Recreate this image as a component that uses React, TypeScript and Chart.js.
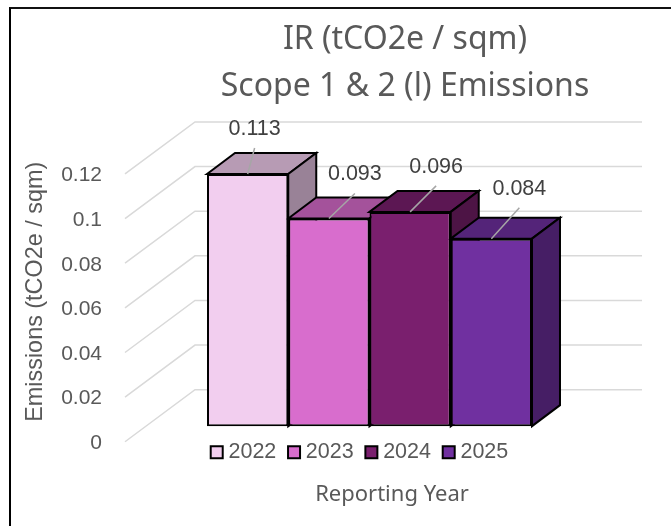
import React, { useEffect, useRef } from "react";
import { Chart, registerables } from "chart.js";

Chart.register(...registerables);

const titleLines = ["IR (tCO2e / sqm)", "Scope 1 & 2 (l) Emissions"];
const categories = [""];
const years = ["2022", "2023", "2024", "2025"];
const intensity = [0.113, 0.093, 0.096, 0.084];
const frontColors = ["#F2CEEF", "#D86DCD", "#7A1F6E", "#7030A0"];
const topColors = ["#B79BB4", "#A4529B", "#5C1753", "#542479"];
const sideColors = ["#998297", "#884581", "#4D1445", "#461E65"];
const labelOffsets = [[7, -45], [26, -44], [26, -45], [28, -50]];

const SANS = "'Liberation Sans', sans-serif";
const UI = "'Noto Sans', sans-serif";
const TEXT = "#595959";

const recentre = (box: any, cx: number, dy = 0) => {
  const shift = cx - (box.left + box.right) / 2;
  box.left += shift;
  box.right += shift;
  box.top += dy;
  box.bottom += dy;
};

const threeD = {
  id: "threeD",
  afterLayout(chart: any) {
    recentre(chart.titleBlock, 405);
    recentre(chart.legend, 362, -17);
    recentre(chart.scales.x, 392, -6);
  },
  beforeDatasetsDraw(chart: any) {
    const { ctx, chartArea, scales } = chart;
    const left = chartArea.left;
    ctx.save();
    ctx.strokeStyle = "#D9D9D9";
    ctx.lineWidth = 1.5;
    scales.y.ticks.forEach((t: any) => {
      const py = scales.y.getPixelForValue(t.value);
      ctx.beginPath();
      ctx.moveTo(left, py);
      ctx.lineTo(left + 70, py - 52);
      ctx.lineTo(642, py - 52);
      ctx.stroke();
    });
    ctx.strokeStyle = "#000";
    ctx.lineWidth = 2;
    ctx.lineJoin = "miter";
    const dx = 28;
    const dy = 21;
    years.forEach((_, i) => {
      const el = chart.getDatasetMeta(i).data[0];
      const l = el.x - el.width / 2;
      const r = el.x + el.width / 2;
      const face = (pts: number[][], fill: string) => {
        ctx.beginPath();
        pts.forEach(([a, b], k) => (k ? ctx.lineTo(a, b) : ctx.moveTo(a, b)));
        ctx.closePath();
        ctx.fillStyle = fill;
        ctx.fill();
        ctx.stroke();
      };
      face([[l, el.y], [l + dx, el.y - dy], [r + dx, el.y - dy], [r, el.y]], topColors[i]);
      face([[r, el.y], [r + dx, el.y - dy], [r + dx, el.base - dy], [r, el.base]], sideColors[i]);
    });
    ctx.restore();
  },
  afterDatasetsDraw(chart: any) {
    const { ctx } = chart;
    ctx.save();
    years.forEach((_, i) => {
      const el = chart.getDatasetMeta(i).data[0];
      const [ox, oy] = labelOffsets[i];
      const tx = el.x + ox;
      const ty = el.y + oy;
      ctx.strokeStyle = "#A6A6A6";
      ctx.lineWidth = 1.5;
      ctx.beginPath();
      ctx.moveTo(el.x, el.y);
      ctx.lineTo(tx, ty + 19);
      ctx.stroke();
      ctx.fillStyle = "#404040";
      ctx.font = `21.5px ${SANS}`;
      ctx.textAlign = "center";
      ctx.textBaseline = "middle";
      ctx.fillText(String(intensity[i]), tx, ty);
    });
    ctx.restore();
  },
};

export default function App() {
  const ref = useRef<HTMLCanvasElement | null>(null);
  useEffect(() => {
    const chart = new Chart(ref.current as HTMLCanvasElement, {
      type: "bar",
      plugins: [threeD],
      data: {
        labels: categories,
        datasets: years.map((y, i) => ({
          label: y,
          data: [intensity[i]],
          yAxisID: "yBars",
          backgroundColor: frontColors[i],
          borderColor: "#000",
          borderWidth: 2,
          borderSkipped: false,
          barPercentage: 1,
          categoryPercentage: 0.6646,
        })),
      },
      options: {
        responsive: false,
        animation: false,
        events: [],
        layout: { padding: { left: 22, right: 57, top: 0, bottom: 12 } },
        plugins: {
          tooltip: { enabled: false },
          title: {
            display: true,
            text: titleLines,
            color: TEXT,
            font: { family: UI, size: 32, weight: "normal", lineHeight: 1.45 },
            padding: { top: 17, bottom: 32 },
          },
          legend: {
            position: "bottom",
            weight: -1,
            labels: {
              usePointStyle: true,
              pointStyle: "rect",
              boxWidth: 2,
              boxHeight: 12,
              padding: 16.75,
              color: TEXT,
              font: { family: SANS, size: 21.5 },
            },
          },
        },
        scales: {
          x: {
            grid: { display: false },
            border: { display: false },
            ticks: { display: false },
            title: {
              display: true,
              text: "Reporting Year",
              color: TEXT,
              font: { family: UI, size: 22 },
              padding: { top: 0, bottom: 0 },
            },
            afterFit(s: any) {
              s.height = 24;
            },
          },
          y: {
            position: "left",
            min: 0,
            max: 0.1344,
            grid: { display: false },
            border: { display: false },
            ticks: {
              stepSize: 0.02,
              includeBounds: false,
              padding: 15,
              labelOffset: 1.5,
              color: TEXT,
              font: { family: SANS, size: 21 },
              callback: (v: any) => String(Number(Number(v).toFixed(2))),
            },
            title: {
              display: true,
              text: "Emissions (tCO2e / sqm)",
              color: TEXT,
              font: { family: SANS, size: 23.4 },
              padding: { top: 0, bottom: 0 },
            },
            afterFit(s: any) {
              s.width = 103;
            },
          },
          yBars: {
            display: false,
            position: "left",
            min: -0.007,
            max: 0.1274,
          },
        },
      },
    } as any);
    return () => chart.destroy();
  }, []);
  return (
    <div style={{ position: "fixed", left: 0, top: 0, width: 671, height: 526, overflow: "hidden", background: "#fff" }}>
      <canvas ref={ref} width={671} height={526} style={{ display: "block", position: "absolute", left: 0, top: 0 }} />
      <div style={{ position: "absolute", left: 9, top: 7, right: -4, bottom: -4, borderTop: "2.5px solid #111", borderLeft: "2.5px solid #000", pointerEvents: "none" }} />
    </div>
  );
}
